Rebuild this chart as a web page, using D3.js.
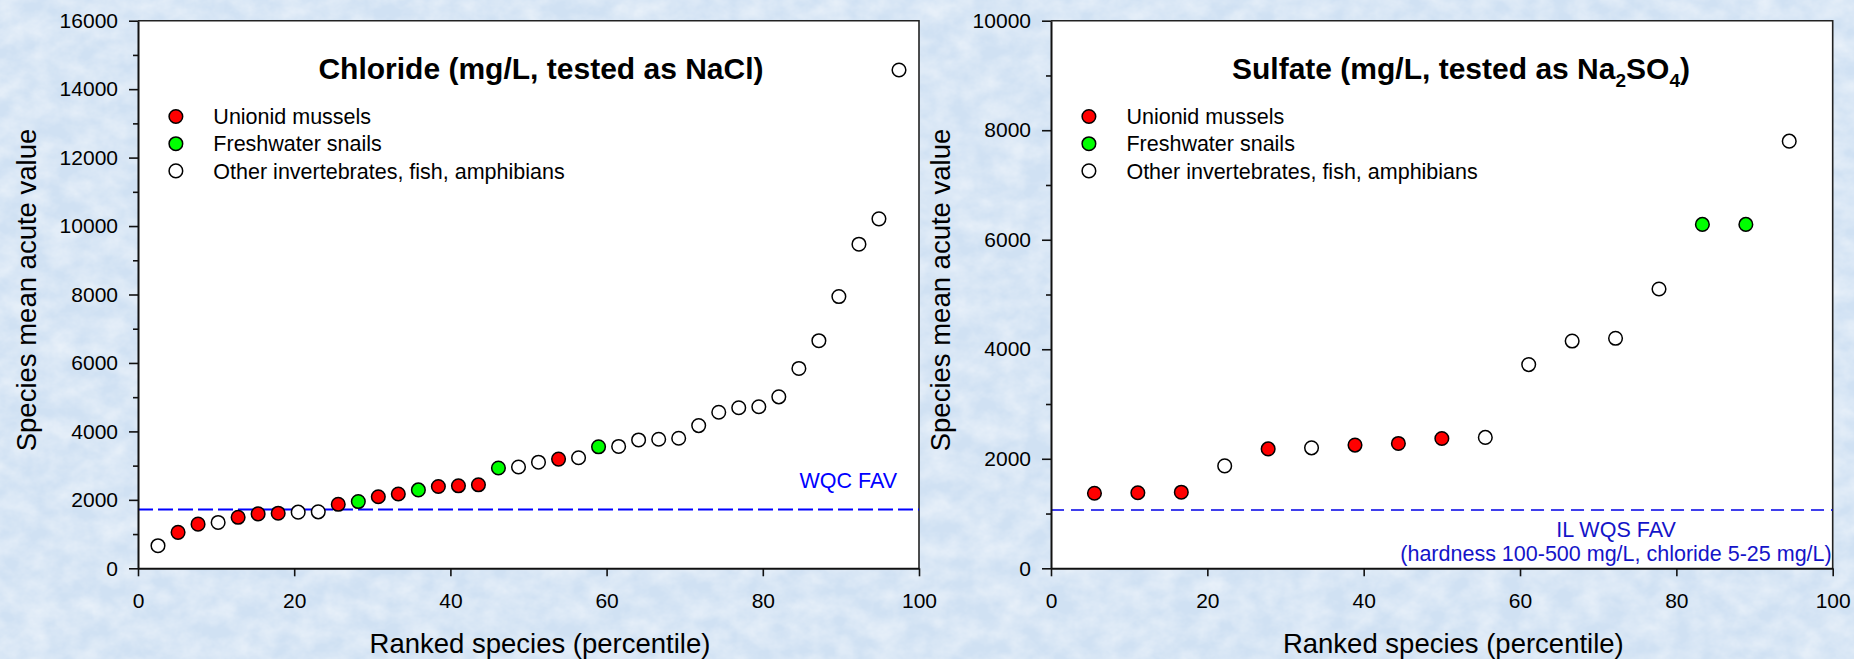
<!DOCTYPE html>
<html>
<head>
<meta charset="utf-8">
<script src="https://cdn.jsdelivr.net/npm/d3@7"></script>
<style>
  html, body { margin: 0; padding: 0; overflow: hidden; }
  svg { display: block; font-family: "Liberation Sans", Arial, sans-serif; }
</style>
</head>
<body>
<svg id="chart" width="1854" height="659"></svg>
<script>
// Species sensitivity distributions: species mean acute values by ranked percentile

const legendLabels = ["Unionid mussels", "Freshwater snails", "Other invertebrates, fish, amphibians"];
const groupKeys = ["mussel", "snail", "other"];
const groupFill = { mussel: "#ff0000", snail: "#00ff00", other: "#ffffff" };

// Chloride (tested as NaCl), 38 species
const chloridePercentile = [2.56, 5.13, 7.69, 10.26, 12.82, 15.38, 17.95, 20.51, 23.08, 25.64,
  28.21, 30.77, 33.33, 35.90, 38.46, 41.03, 43.59, 46.15, 48.72, 51.28,
  53.85, 56.41, 58.97, 61.54, 64.10, 66.67, 69.23, 71.79, 74.36, 76.92,
  79.49, 82.05, 84.62, 87.18, 89.74, 92.31, 94.87, 97.44];
const chlorideSMAV = [660, 1050, 1290, 1340, 1490, 1590, 1610, 1640, 1650, 1870,
  1950, 2090, 2170, 2290, 2390, 2410, 2440, 2930, 2960, 3100,
  3190, 3230, 3550, 3560, 3750, 3770, 3800, 4170, 4560, 4690,
  4720, 5010, 5840, 6650, 7940, 9470, 10210, 14560];
const chlorideGroup = ["other", "mussel", "mussel", "other", "mussel", "mussel", "mussel", "other", "other", "mussel",
  "snail", "mussel", "mussel", "snail", "mussel", "mussel", "mussel", "snail", "other", "other",
  "mussel", "other", "snail", "other", "other", "other", "other", "other", "other", "other",
  "other", "other", "other", "other", "other", "other", "other", "other"];
const chlorideFAV = 1720;
const chlorideYTicks = [0, 2000, 4000, 6000, 8000, 10000, 12000, 14000, 16000];
const chlorideYMinor = [1000, 3000, 5000, 7000, 9000, 11000, 13000, 15000];

// Sulfate (tested as Na2SO4), 17 species
const sulfatePercentile = [5.56, 11.11, 16.67, 22.22, 27.78, 33.33, 38.89, 44.44, 50.00,
  55.56, 61.11, 66.67, 72.22, 77.78, 83.33, 88.89, 94.44];
const sulfateSMAV = [1370, 1380, 1390, 1870, 2180, 2200, 2250, 2280, 2370,
  2390, 3720, 4150, 4200, 5100, 6280, 6280, 7800];
const sulfateGroup = ["mussel", "mussel", "mussel", "other", "mussel", "other", "mussel", "mussel", "mussel",
  "other", "other", "other", "other", "other", "snail", "snail", "other"];
const sulfateFAV = 1065;
const sulfateYTicks = [0, 2000, 4000, 6000, 8000, 10000];
const sulfateYMinor = [1000, 3000, 5000, 7000, 9000];

const xTicks = [0, 20, 40, 60, 80, 100];

const svg = d3.select("#chart");

// Textured light-blue backdrop
const defs = svg.append("defs");
const f = defs.append("filter").attr("id", "marble")
  .attr("x", 0).attr("y", 0).attr("width", "100%").attr("height", "100%");
f.append("feTurbulence").attr("type", "fractalNoise")
  .attr("baseFrequency", "0.04 0.05").attr("numOctaves", 4).attr("seed", 11).attr("result", "n");
f.append("feColorMatrix").attr("in", "n").attr("type", "matrix")
  .attr("values", "0 0 0 0 1  0 0 0 0 1  0 0 0 0 1  0.8 0 0 0 -0.22");
svg.append("rect").attr("width", 1854).attr("height", 659).attr("fill", "#d0e1f3");
svg.append("rect").attr("width", 1854).attr("height", 659).attr("fill", "#fff").attr("filter", "url(#marble)");

function drawPanel(p) {
  const x = d3.scaleLinear().domain([0, 100]).range([p.left, p.right]);
  const y = d3.scaleLinear().domain([0, p.yMax]).range([568.3, 20.7]);
  const g = svg.append("g");

  g.append("rect").attr("x", x(0)).attr("y", y(p.yMax))
    .attr("width", x(100) - x(0)).attr("height", y(0) - y(p.yMax)).attr("fill", "#fff");

  // frame top/right
  g.append("path")
    .attr("d", `M${x(0)},${y(p.yMax)}H${x(100)}V${y(0)}`)
    .attr("fill", "none").attr("stroke", "#222").attr("stroke-width", 1.6);

  // reference line
  g.append("line").attr("x1", x(0)).attr("x2", x(100))
    .attr("y1", y(p.fav)).attr("y2", y(p.fav))
    .attr("stroke", p.favColor).attr("stroke-width", p.favWidth)
    .attr("stroke-dasharray", p.favDash);

  // axes
  const yAxis = d3.axisLeft(y).tickValues(p.yTicks).tickFormat(d3.format("d"))
    .tickSize(9).tickPadding(11).tickSizeOuter(0);
  const ya = g.append("g").attr("transform", `translate(${x(0)},0)`).call(yAxis);
  const yMinor = d3.axisLeft(y).tickValues(p.yMinor).tickFormat("").tickSize(5).tickSizeOuter(0);
  const ym = g.append("g").attr("transform", `translate(${x(0)},0)`).call(yMinor);
  ym.select(".domain").remove();

  const xAxis = d3.axisBottom(x).tickValues(xTicks).tickFormat(d3.format("d"))
    .tickSize(8).tickPadding(17).tickSizeOuter(0);
  const xa = g.append("g").attr("transform", `translate(0,${y(0)})`).call(xAxis);

  [ya, ym, xa].forEach(a => {
    a.selectAll(".domain").attr("stroke", "#111").attr("stroke-width", 2);
    a.selectAll(".tick line").attr("stroke", "#111").attr("stroke-width", 1.6);
    a.selectAll(".tick text").attr("fill", "#000").style("font-size", "21px")
      .style("font-family", "'Liberation Sans', Arial, sans-serif");
  });

  // axis titles
  g.append("text")
    .attr("transform", `translate(${p.yTitleX},290) rotate(-90)`)
    .attr("text-anchor", "middle").style("font-size", "27.5px").attr("fill", "#000")
    .text("Species mean acute value");
  g.append("text")
    .attr("x", (x(0) + x(100)) / 2 + 11.5).attr("y", 653)
    .attr("text-anchor", "middle").style("font-size", "27.5px").attr("fill", "#000")
    .text("Ranked species (percentile)");

  // panel title
  const t = g.append("text").attr("x", p.titleX).attr("y", 79)
    .attr("text-anchor", "middle").style("font-size", "30px").style("font-weight", "bold")
    .attr("fill", "#000");
  p.title.forEach(seg => {
    const ts = t.append("tspan").text(seg.text);
    if (seg.sub) ts.style("font-size", "19px").attr("dy", 8);
    else if (seg.after) ts.attr("dy", -8);
  });

  // legend
  const lg = g.append("g");
  legendLabels.forEach((lab, i) => {
    const cy = 116.5 + i * 27.2;
    lg.append("circle").attr("cx", x(4.85)).attr("cy", cy).attr("r", 6.8)
      .attr("fill", groupFill[groupKeys[i]]).attr("stroke", "#000").attr("stroke-width", 1.5);
    lg.append("text").attr("x", x(9.65)).attr("y", cy + 7.6)
      .style("font-size", "21.5px").attr("fill", "#000").text(lab);
  });

  // FAV label
  p.favLabel.forEach((line, i) => {
    g.append("text").attr("x", p.favLabelX).attr("y", p.favLabelY + i * 24)
      .attr("text-anchor", p.favAnchor).style("font-size", "21.5px")
      .attr("fill", p.favTextColor).text(line);
  });

  // data points
  const pts = p.pct.map((v, i) => ({ pct: v, val: p.vals[i], grp: p.grp[i] }));
  g.append("g").selectAll("circle").data(pts).join("circle")
    .attr("cx", d => x(d.pct)).attr("cy", d => y(d.val)).attr("r", 6.8)
    .attr("fill", d => groupFill[d.grp]).attr("stroke", "#000").attr("stroke-width", 1.5);
}

drawPanel({
  left: 138, right: 919, yMax: 16000,
  yTicks: chlorideYTicks, yMinor: chlorideYMinor,
  pct: chloridePercentile, vals: chlorideSMAV, grp: chlorideGroup,
  fav: chlorideFAV, favColor: "#0000ff", favWidth: 2, favDash: "15,5",
  favLabel: ["WQC FAV"], favLabelX: 897, favLabelY: 488, favAnchor: "end", favTextColor: "#0000ff",
  yTitleX: 36, titleX: 541,
  title: [{ text: "Chloride (mg/L, tested as NaCl)" }]
});

drawPanel({
  left: 1051, right: 1832.7, yMax: 10000,
  yTicks: sulfateYTicks, yMinor: sulfateYMinor,
  pct: sulfatePercentile, vals: sulfateSMAV, grp: sulfateGroup,
  fav: sulfateFAV, favColor: "#0000e6", favWidth: 1.5, favDash: "13,7",
  favLabel: ["IL WQS FAV", "(hardness 100-500 mg/L, chloride 5-25 mg/L)"],
  favLabelX: 1616, favLabelY: 537, favAnchor: "middle", favTextColor: "#1414c8",
  yTitleX: 950, titleX: 1461,
  title: [{ text: "Sulfate (mg/L, tested as Na" }, { text: "2", sub: true },
          { text: "SO", after: true }, { text: "4", sub: true }, { text: ")", after: true }]
});
</script>
</body>
</html>
